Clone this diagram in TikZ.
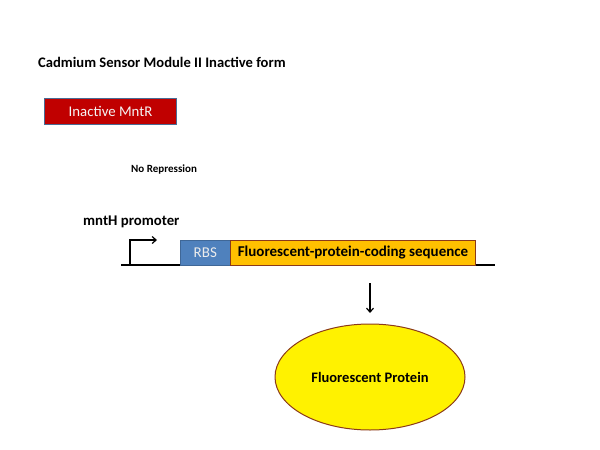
\documentclass[tikz,border=0pt]{standalone}
\usepackage{fontspec}
\setmainfont{Carlito}
\usetikzlibrary{shapes.geometric,arrows.meta}
\definecolor{mred}{HTML}{C00000}
\definecolor{mblueborder}{HTML}{4A6B94}
\definecolor{rbsblue}{HTML}{4F81BD}
\definecolor{cdsorange}{HTML}{FFC000}
\definecolor{brownb}{HTML}{8B3A1A}
\tikzset{
  boxstyle/.style={draw, line width=1pt, inner sep=0pt, anchor=north west},
  lbl/.style={font=\bfseries, inner sep=0pt},
}
\begin{document}
\begin{tikzpicture}[x=1pt,y=-1pt]
\useasboundingbox (0,0) rectangle (600,450);
\node[lbl, anchor=west, font=\bfseries\fontsize{14.6}{16}\selectfont] (title) at (38,62) {Cadmium Sensor Module II Inactive form};
\node[boxstyle, draw=mblueborder, fill=mred, minimum width=132pt, minimum height=26pt, text=white!92!gray, font=\fontsize{14.8}{16}\selectfont] (mntr) at (44,98) {Inactive MntR};
\node[lbl, anchor=west, font=\bfseries\fontsize{11}{13}\selectfont] (norep) at (131,170) {No Repression};
\node[lbl, anchor=west, font=\bfseries\fontsize{14.8}{16}\selectfont] (prom) at (83,222) {mntH promoter};
\coordinate (lineL) at (121,265);
\coordinate (lineR) at (495,265);
\draw[line width=1.2pt] (lineL) -- (lineR);
\coordinate (pb) at (130,265);
\coordinate (pt) at (157,240);
\draw[line width=1.2pt, -{Straight Barb[length=4pt,width=7pt]}] (pb) |- (pt);
\node[boxstyle, draw=rbsblue!80!black, line width=0.6pt, fill=rbsblue, minimum width=50pt, minimum height=25pt, text=white!85!gray, font=\fontsize{15}{16}\selectfont] (rbs) at (180,240) {RBS};
\node[boxstyle, draw=brownb, fill=cdsorange, minimum width=245pt, minimum height=25pt, font=\bfseries\fontsize{15}{16}\selectfont] (cds) at (230,240) {Fluorescent-protein-coding sequence};
\coordinate (a1) at (370,283);
\coordinate (a2) at (370,313);
\draw[line width=1.2pt, -{Straight Barb[length=4pt,width=7pt]}] (a1) -- (a2);
\node[ellipse, draw=brownb, line width=1pt, fill=yellow, minimum width=190pt, minimum height=106pt, inner sep=0pt, font=\bfseries\fontsize{14.5}{16}\selectfont] (fp) at (370,377) {Fluorescent Protein};
\end{tikzpicture}
\end{document}
